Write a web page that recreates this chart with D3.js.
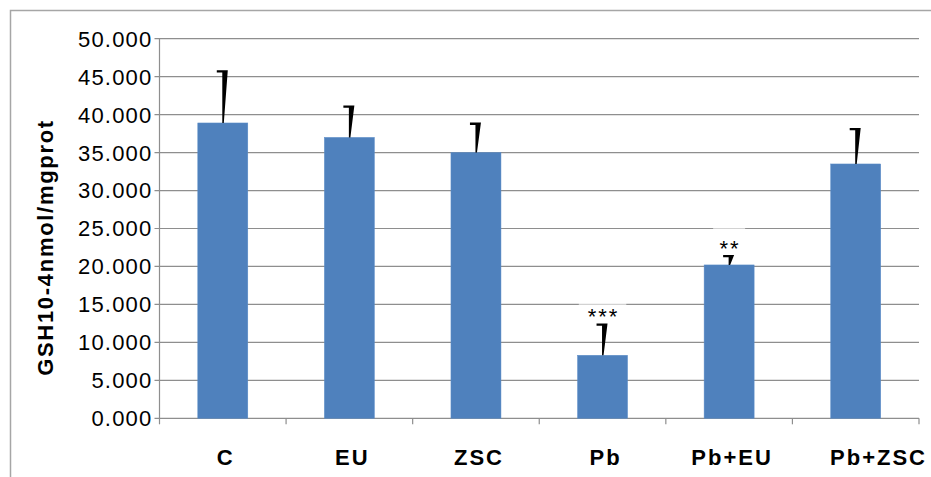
<!DOCTYPE html>
<html>
<head>
<meta charset="utf-8">
<script src="https://cdn.jsdelivr.net/npm/d3@7"></script>
<style>
	body { margin: 0; background: #fff; }
	svg { display: block; }
	.tick-label { font-family: "Liberation Sans", Arial, sans-serif; font-size: 22px; letter-spacing: 1.2px; fill: #000; }
	.cat-label { font-family: "Liberation Sans", Arial, sans-serif; font-size: 22px; font-weight: bold; letter-spacing: 2px; fill: #000; }
	.axis-title { font-family: "Liberation Sans", Arial, sans-serif; font-size: 22px; font-weight: bold; letter-spacing: 1.7px; fill: #000; }
	.star { font-family: "Liberation Sans", Arial, sans-serif; font-size: 22px; letter-spacing: 2px; fill: #000; }
</style>
</head>
<body>
<script>

var groups = ['C', 'EU', 'ZSC', 'Pb', 'Pb+EU', 'Pb+ZSC'];
var means = [38.9, 37.0, 35.0, 8.3, 20.2, 33.5];
var errors = [6.95, 4.2, 3.95, 4.2, 1.3, 4.75];
var marks = ['', '', '', '***', '**', ''];
var yTicks = [0, 5, 10, 15, 20, 25, 30, 35, 40, 45, 50];
var yTitle = 'GSH10-4nmol/mgprot';

var width = 931,
	height = 477;

var plotLeft = 159.5,
	plotRight = 919,
	plotTop = 38.7,
	plotBottom = 418.3;

var svg = d3.select('body').append('svg')
	.attr('width', width)
	.attr('height', height);

var g = svg.append('g');

var xScale = d3.scaleBand()
	.domain(groups)
	.range([plotLeft, plotRight])
	.padding(0);

var yScale = d3.scaleLinear()
	.domain([0, 50])
	.range([plotBottom, plotTop]);

// outer frame (cut off right and bottom)
g.append('path')
	.attr('d', 'M10.5,' + height + 'V10.5H' + width)
	.style('fill', 'none')
	.attr('stroke', '#a6a6a6')
	.attr('stroke-width', 1.5);

// gridlines
g.selectAll('.grid')
	.data(yTicks)
	.enter().append('line')
	.attr('class', 'grid')
	.attr('x1', plotLeft - 5)
	.attr('x2', plotRight)
	.attr('y1', function(d) { return yScale(d); })
	.attr('y2', function(d) { return yScale(d); })
	.attr('stroke', '#8e8e8e')
	.attr('stroke-width', 1.2);

// y axis line
g.append('line')
	.attr('x1', plotLeft)
	.attr('x2', plotLeft)
	.attr('y1', plotTop)
	.attr('y2', plotBottom)
	.attr('stroke', '#8e8e8e')
	.attr('stroke-width', 1.2);

// x category boundary ticks
var bounds = groups.map(function(d) { return xScale(d); }).concat([plotRight]);
g.selectAll('.xtick')
	.data(bounds)
	.enter().append('line')
	.attr('class', 'xtick')
	.attr('x1', function(d) { return d; })
	.attr('x2', function(d) { return d; })
	.attr('y1', plotBottom)
	.attr('y2', plotBottom + 6)
	.attr('stroke', '#8e8e8e')
	.attr('stroke-width', 1.2);

// y tick labels
g.selectAll('.tick-label')
	.data(yTicks)
	.enter().append('text')
	.attr('class', 'tick-label')
	.attr('x', plotLeft - 7)
	.attr('y', function(d) { return yScale(d); })
	.attr('dy', '0.36em')
	.attr('text-anchor', 'end')
	.text(function(d) { return d3.format('.3f')(d); });

// bars
var bw = xScale.bandwidth() * 0.395;

g.selectAll('.bar')
	.data(means)
	.enter().append('rect')
	.attr('class', 'bar')
	.attr('x', function(d, i) { return xScale(groups[i]) + xScale.bandwidth() / 2 - bw / 2; })
	.attr('y', function(d) { return yScale(d); })
	.attr('width', bw)
	.attr('height', function(d) { return yScale(0) - yScale(d); })
	.style('fill', '#4f81bd')
	.attr('stroke', '#5b8cc8')
	.attr('stroke-width', 0.5);

// significance marks (semi-opaque label box dims the gridline behind it)
marks.forEach(function(m, i) {
	if (!m) return;
	var cx = xScale(groups[i]) + xScale.bandwidth() / 2;
	var yb = yScale(means[i] + errors[i]) + 1;
	var w = m.length * 15.5 + 1;
	g.append('rect')
		.attr('x', cx - w / 2)
		.attr('y', yb - 30)
		.attr('width', w)
		.attr('height', 30)
		.style('fill', '#fff')
		.style('fill-opacity', 0.6);
	g.append('text')
		.attr('class', 'star')
		.attr('x', cx + 1)
		.attr('y', yb)
		.attr('text-anchor', 'middle')
		.text(m);
});

// error bars, drawn as the tapered wedge + cap seen in the original
g.selectAll('.err')
	.data(means)
	.enter().append('path')
	.attr('class', 'err')
	.attr('d', function(d, i) {
		var cx = xScale(groups[i]) + xScale.bandwidth() / 2;
		var y0 = yScale(d);
		var y1 = yScale(d + errors[i]);
		return 'M' + (cx - 6) + ',' + y1 +
			'H' + (cx + 5) +
			'L' + (cx + 1) + ',' + y0 +
			'H' + (cx - 0.5) +
			'V' + (y1 + 2.3) +
			'H' + (cx - 6) + 'Z';
	})
	.style('fill', '#000')
	.attr('stroke', 'none');

// category labels (the last one is pushed right against the frame edge)
g.selectAll('.cat-label')
	.data(groups)
	.enter().append('text')
	.attr('class', 'cat-label')
	.attr('x', function(d, i) {
		if (i == groups.length - 1) return plotRight + 8;
		return xScale(d) + xScale.bandwidth() / 2 + 3;
	})
	.attr('y', 465)
	.attr('text-anchor', function(d, i) { return i == groups.length - 1 ? 'end' : 'middle'; })
	.text(function(d) { return d; });

// y axis title
g.append('text')
	.attr('class', 'axis-title')
	.attr('transform', 'translate(53,' + 247.5 + ') rotate(-90)')
	.attr('text-anchor', 'middle')
	.text(yTitle);

</script>
</body>
</html>
